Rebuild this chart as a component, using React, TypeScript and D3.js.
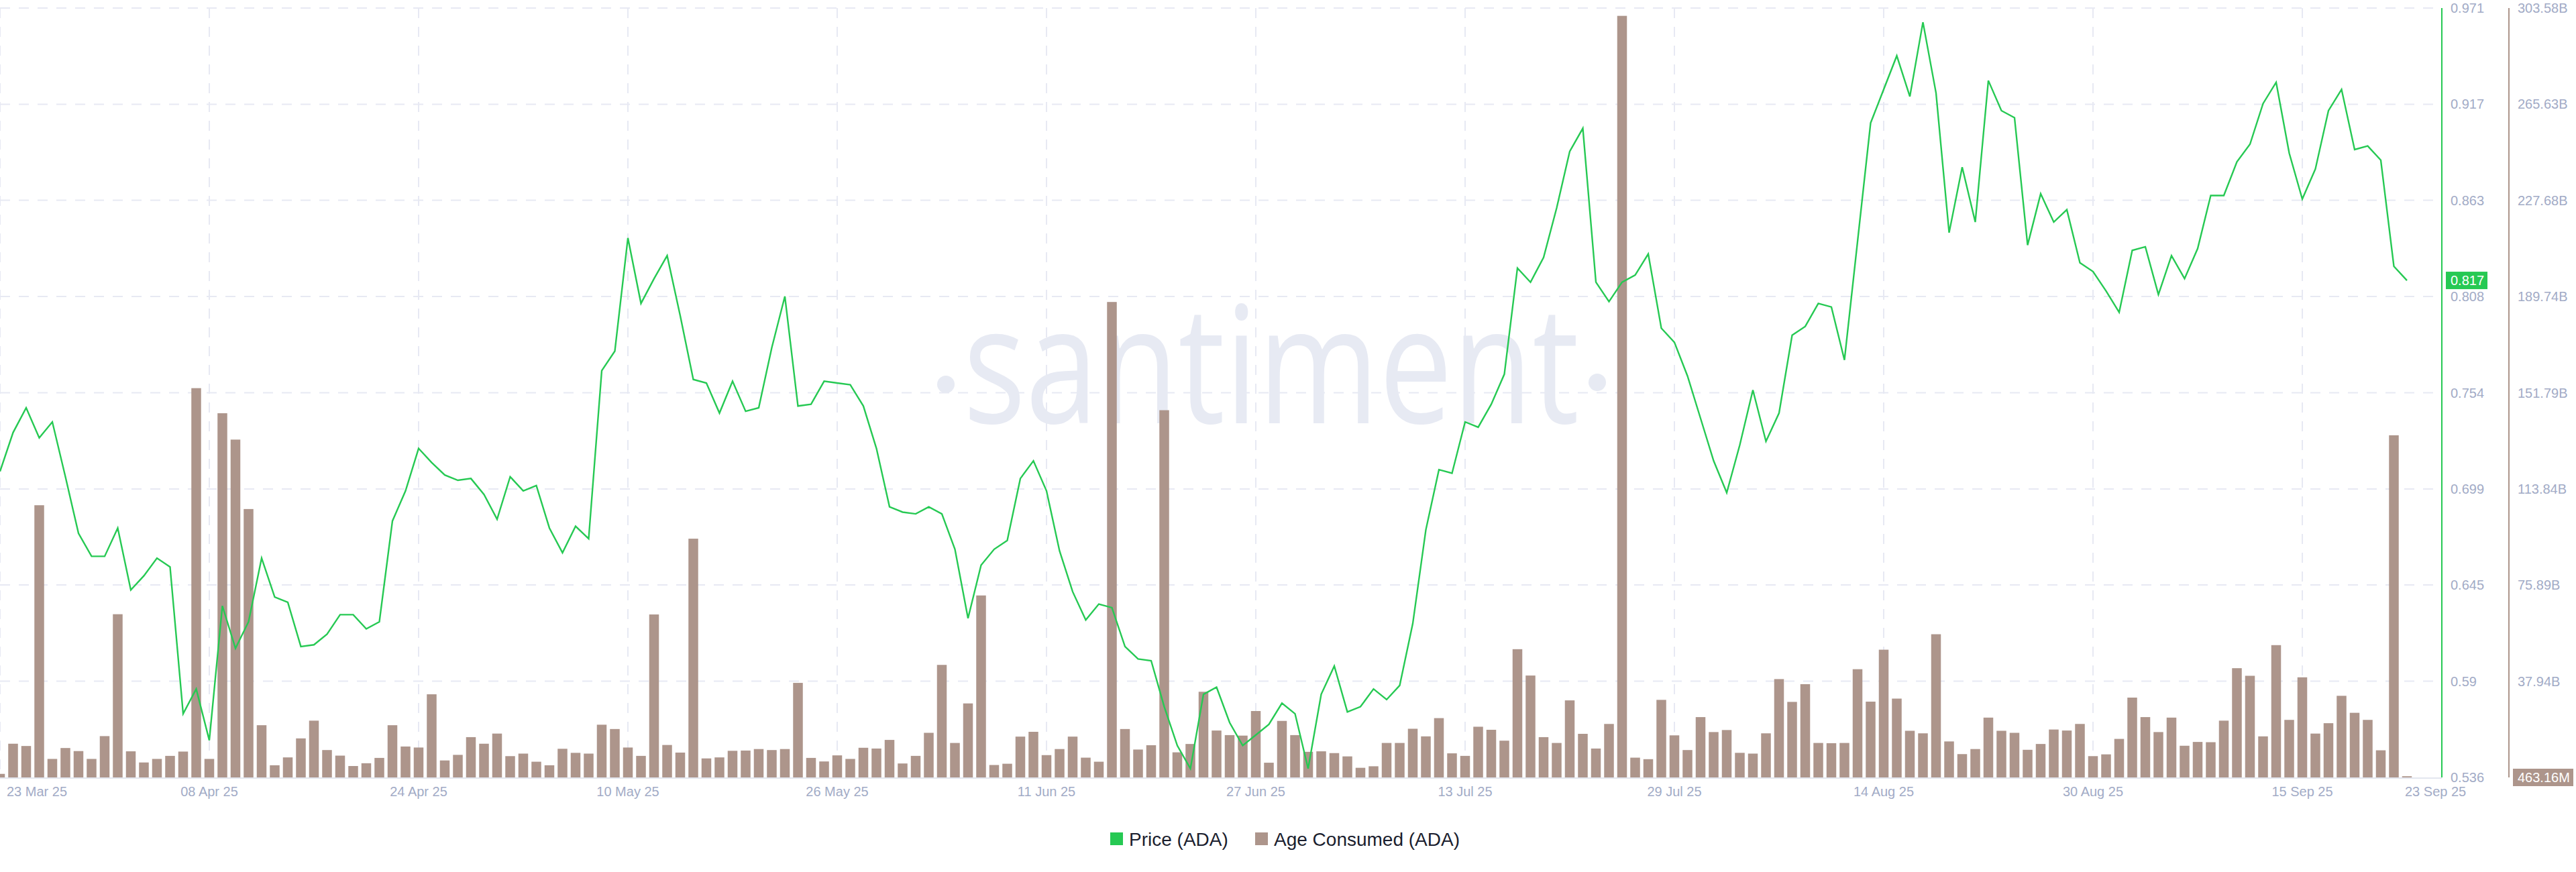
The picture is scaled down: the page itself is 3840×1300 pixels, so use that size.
import React from 'react';
import * as d3 from 'd3';

// daily series, 23 Mar 25 .. 23 Sep 25
const startDate = new Date(Date.UTC(2025, 2, 23));
const endDate = new Date(Date.UTC(2025, 8, 23));

const price: number[] = [
  0.709, 0.731, 0.745, 0.728, 0.737, 0.706, 0.674, 0.661, 0.661, 0.677,
  0.642, 0.650, 0.660, 0.655, 0.572, 0.586, 0.557, 0.633, 0.609, 0.624,
  0.660, 0.638, 0.635, 0.610, 0.611, 0.617, 0.628, 0.628, 0.620, 0.624,
  0.681, 0.698, 0.722, 0.714, 0.707, 0.704, 0.705, 0.696, 0.682, 0.706,
  0.698, 0.701, 0.677, 0.663, 0.678, 0.671, 0.766, 0.777, 0.841, 0.804,
  0.818, 0.831, 0.797, 0.761, 0.759, 0.742, 0.760, 0.743, 0.745, 0.779,
  0.808, 0.746, 0.747, 0.760, 0.759, 0.758, 0.746, 0.722, 0.689, 0.686,
  0.685, 0.689, 0.685, 0.665, 0.626, 0.656, 0.665, 0.670, 0.705, 0.715,
  0.698, 0.664, 0.641, 0.625, 0.634, 0.632, 0.610, 0.603, 0.602, 0.576,
  0.554, 0.541, 0.583, 0.587, 0.567, 0.554, 0.560, 0.566, 0.578, 0.572,
  0.541, 0.583, 0.599, 0.573, 0.576, 0.586, 0.580, 0.588, 0.623, 0.676,
  0.710, 0.708, 0.737, 0.734, 0.747, 0.764, 0.824, 0.816, 0.830, 0.858,
  0.890, 0.903, 0.816, 0.805, 0.816, 0.820, 0.832, 0.790, 0.782, 0.763,
  0.739, 0.715, 0.697, 0.724, 0.755, 0.726, 0.742, 0.786, 0.791, 0.804,
  0.802, 0.772, 0.839, 0.906, 0.925, 0.944, 0.921, 0.963, 0.923, 0.844,
  0.881, 0.850, 0.930, 0.913, 0.909, 0.837, 0.866, 0.850, 0.857, 0.827,
  0.822, 0.811, 0.799, 0.834, 0.836, 0.809, 0.831, 0.818, 0.835, 0.865,
  0.865, 0.884, 0.894, 0.917, 0.929, 0.889, 0.863, 0.880, 0.913, 0.925,
  0.891, 0.893, 0.885, 0.825, 0.817,
];

// age consumed, billions
const ageConsumed: number[] = [
  1.4, 13.3, 12.4, 107.4, 7.3, 11.6, 10.4, 7.3, 16.3, 64.4,
  10.3, 5.9, 7.3, 8.5, 10.2, 153.6, 7.3, 143.7, 133.3, 105.9,
  20.6, 4.8, 7.9, 15.4, 22.4, 10.8, 8.6, 4.5, 5.6, 7.7,
  20.6, 12.2, 11.8, 32.8, 6.7, 8.9, 15.9, 13.3, 17.3, 8.4,
  9.4, 6.2, 4.8, 11.3, 9.7, 9.4, 20.8, 19.1, 11.8, 8.5,
  64.3, 12.8, 9.8, 94.2, 7.5, 7.9, 10.5, 10.6, 11.2, 10.8,
  11.2, 37.3, 7.7, 6.3, 8.7, 7.3, 11.7, 11.4, 14.8, 5.5,
  8.5, 17.6, 44.4, 13.6, 29.2, 71.8, 4.9, 5.4, 16.1, 18.0,
  8.8, 11.2, 16.1, 7.8, 6.2, 187.6, 19.1, 11.0, 12.7, 144.9,
  9.9, 13.2, 33.8, 18.5, 16.7, 16.5, 26.2, 5.8, 22.3, 16.7,
  10.1, 10.3, 9.6, 8.3, 3.8, 4.4, 13.6, 13.6, 19.2, 16.2,
  23.4, 9.5, 8.5, 20.0, 18.8, 14.5, 50.6, 40.2, 15.9, 13.6,
  30.4, 17.2, 11.4, 21.1, 300.5, 7.8, 7.2, 30.6, 16.6, 10.8,
  23.8, 17.9, 18.7, 9.7, 9.4, 17.4, 38.8, 29.8, 36.8, 13.6,
  13.5, 13.6, 42.7, 29.9, 50.4, 31.1, 18.4, 17.4, 56.5, 14.2,
  9.2, 11.2, 23.6, 18.4, 17.6, 10.9, 13.2, 18.9, 18.5, 21.1,
  8.4, 9.1, 15.2, 31.5, 23.8, 17.9, 23.6, 12.5, 14.0, 13.9,
  22.4, 43.1, 40.1, 16.2, 52.2, 22.7, 39.5, 17.3, 21.4, 32.2,
  25.5, 22.7, 10.7, 135.0, 0.46316,
];

const xTickLabels = [
  '23 Mar 25', '08 Apr 25', '24 Apr 25', '10 May 25', '26 May 25', '11 Jun 25',
  '27 Jun 25', '13 Jul 25', '29 Jul 25', '14 Aug 25', '30 Aug 25', '15 Sep 25',
];
const lastXLabel = '23 Sep 25';

const priceTicks = [0.536, 0.5904, 0.6448, 0.6991, 0.7535, 0.8079, 0.8623, 0.9166, 0.971];
const priceTickLabels = ['0.536', '0.59', '0.645', '0.699', '0.754', '0.808', '0.863', '0.917', '0.971'];
const ageTicks = [37.94, 75.89, 113.84, 151.79, 189.74, 227.68, 265.63, 303.58];
const ageTickLabels = ['37.94B', '75.89B', '113.84B', '151.79B', '189.74B', '227.68B', '265.63B', '303.58B'];

const lastPriceLabel = '0.817';
const lastAgeLabel = '463.16M';

const W = 3840;
const H = 1300;
const top = 12;
const bottom = 1159;
const plotRight = 3640;
const green = '#26c953';
const brown = '#ad958b';
const axisText = '#a2abc6';
const grid = '#e7e9f3';
const font = '"Liberation Sans", Arial, sans-serif';

function App() {
  const days = d3.utcDay.range(startDate, d3.utcDay.offset(endDate, 1));
  const x = d3.scaleUtc().domain([startDate, endDate]).range([0, 3588]);
  const yPrice = d3.scaleLinear().domain([0.536, 0.971]).range([bottom, top]);
  const yAge = d3.scaleLinear().domain([0, 303.58]).range([bottom, top]);
  const ticks16 = d3.range(xTickLabels.length).map(i => d3.utcDay.offset(startDate, i * 16));

  const line = d3.line<number>()
    .x((_, i) => x(days[i]))
    .y(d => yPrice(d));

  const barW = 14.5;

  return (
    <div style={{ position: 'absolute', left: 0, top: 0 }}>
      <svg width={W} height={H} style={{ display: 'block', background: '#fff' }}>
        <defs>
          <clipPath id="plot">
            <rect x={0} y={0} width={plotRight} height={bottom + 1} />
          </clipPath>
        </defs>

        {/* grid */}
        {priceTicks.slice(1).map((t, i) => (
          <line key={'h' + i} x1={0} x2={3630} y1={yPrice(t)} y2={yPrice(t)}
            stroke={grid} strokeWidth={2} strokeDasharray="15 13" />
        ))}
        {ticks16.map((d, i) => (
          <line key={'v' + i} x1={x(d)} x2={x(d)} y1={top} y2={bottom}
            stroke={grid} strokeWidth={2} strokeDasharray="15 13" />
        ))}

        {/* watermark */}
        <g fill="#e7eaf3">
          <circle cx={1410} cy={573} r={13} />
          <text x={1436} y={631} fontFamily='"Open Sans", sans-serif' fontSize={243}
            textLength={918} lengthAdjust="spacingAndGlyphs">santiment</text>
          <circle cx={2381} cy={570} r={13} />
        </g>

        <g clipPath="url(#plot)">
          {ageConsumed.map((v, i) => (
            <rect key={'b' + i} x={x(days[i]) - barW / 2} y={yAge(v)} width={barW}
              height={bottom - yAge(v)} fill={brown} />
          ))}
          <path d={line(price) ?? ''} fill="none" stroke={green} strokeWidth={2.4}
            strokeLinejoin="miter" />
        </g>

        {/* baseline */}
        <line x1={0} x2={plotRight} y1={bottom + 1} y2={bottom + 1} stroke="#e3e6ef" strokeWidth={2} />

        {/* x labels */}
        <g fontFamily={font} fontSize={20} fill={axisText}>
          {ticks16.map((d, i) => (
            <text key={'xl' + i} x={i === 0 ? 10 : x(d)} y={1187}
              textAnchor={i === 0 ? 'start' : 'middle'}>{xTickLabels[i]}</text>
          ))}
          <text x={x(endDate) - 3} y={1187}>{lastXLabel}</text>
        </g>

        {/* right axes */}
        <line x1={plotRight} x2={plotRight} y1={top} y2={bottom} stroke={green} strokeWidth={2} />
        <line x1={3740} x2={3740} y1={top} y2={bottom} stroke={brown} strokeWidth={2} />
        <g fontFamily={font} fontSize={20} fill={axisText}>
          {priceTicks.map((t, i) => (
            <text key={'pl' + i} x={3653} y={yPrice(t)} dy="0.35em">{priceTickLabels[i]}</text>
          ))}
          {ageTicks.map((t, i) => (
            <text key={'al' + i} x={3753} y={yAge(t)} dy="0.35em">{ageTickLabels[i]}</text>
          ))}
        </g>

        {/* last value badges */}
        <rect x={3646} y={yPrice(price[price.length - 1]) - 13} width={62} height={26} fill={green} />
        <text x={3653} y={yPrice(price[price.length - 1])} dy="0.35em" fontFamily={font}
          fontSize={20} fill="#fff">{lastPriceLabel}</text>
        <rect x={3746} y={yAge(0) - 13} width={90} height={26} fill={brown} />
        <text x={3753} y={yAge(0)} dy="0.35em" fontFamily={font} fontSize={20} fill="#fff">{lastAgeLabel}</text>

        {/* legend */}
        <g fontFamily={font} fontSize={28} fill="#1b1e2e">
          <rect x={1655} y={1241} width={19} height={19} fill={green} />
          <text x={1683} y={1261}>Price (ADA)</text>
          <rect x={1871} y={1241} width={19} height={19} fill={brown} />
          <text x={1899} y={1261}>Age Consumed (ADA)</text>
        </g>
      </svg>
    </div>
  );
}

export default App;
